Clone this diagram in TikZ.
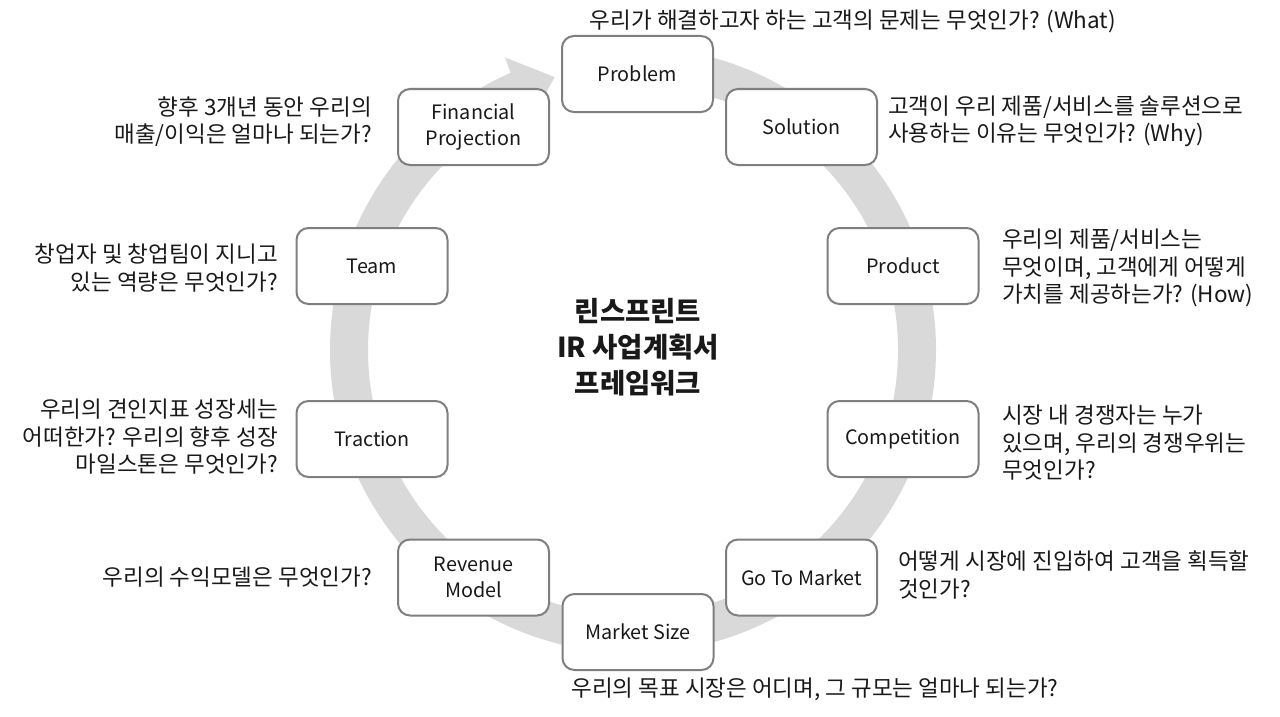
\documentclass[tikz,border=0pt]{standalone}
\usepackage{fontspec}
\setmainfont{Noto Sans CJK KR}
\usetikzlibrary{arrows.meta,bending}
\definecolor{ringgray}{RGB}{217,217,217}
\definecolor{boxgray}{RGB}{127,127,127}
\definecolor{txt}{RGB}{25,25,25}
\begin{document}
\begin{tikzpicture}[x=1pt,y=-1pt,
  font=\fontsize{20}{27}\selectfont,
  stagebox/.style={draw=boxgray, line width=2pt, rounded corners=12pt, fill=white,
    minimum width=151pt, minimum height=76pt, align=center, text=txt, inner sep=2pt,
    font=\fontsize{19.8}{26}\selectfont},
  qtext/.style={text=txt, inner sep=0pt, font=\fontsize{22.5}{27.5}\selectfont},
  qleft/.style={qtext, anchor=west, align=left},
  qright/.style={qtext, anchor=east, align=right}]
\fill[white] (0,0) rectangle (1280,717);
\useasboundingbox (0,0) rectangle (1280,717);
\coordinate (ctr) at (633,350);
\coordinate (ringstart) at ([shift={(-88:284)}]ctr);
\draw[ringgray, line width=38pt, -{Triangle[width=68pt,length=40pt]}]
  (ringstart) arc[start angle=-88, end angle=254, radius=284];

\node[stagebox] (problem) at (637.5,74) {Problem};
\node[stagebox] (solution) at (801.5,127) {Solution};
\node[stagebox] (product) at (903,266) {Product};
\node[stagebox] (competition) at (903,439) {Competition};
\node[stagebox] (gtm) at (801.5,577.5) {Go To Market};
\node[stagebox] (msize) at (638,632) {Market Size};
\node[stagebox] (revenue) at (473.5,577.5) {Revenue\\Model};
\node[stagebox] (traction) at (372,439) {Traction};
\node[stagebox] (team) at (372,266) {Team};
\node[stagebox] (fin) at (473.5,127) {Financial\\Projection};

\node[text=txt, inner sep=0pt, align=center, font=\fontsize{27.5}{36}\selectfont\bfseries] (title) at (638,347)
  {린스프린트\\IR 사업계획서\\프레임워크};

\node[qtext, anchor=center] (qproblem) at (853,21) {우리가 해결하고자 하는 고객의 문제는 무엇인가? (What)};
\node[qleft] (qsolution) at (888,121.5) {고객이 우리 제품/서비스를 솔루션으로\\사용하는 이유는 무엇인가? (Why)};
\node[qleft] (qproduct) at (1002,268) {우리의 제품/서비스는\\무엇이며, 고객에게 어떻게\\가치를 제공하는가? (How)};
\node[qleft] (qcomp) at (1002,443) {시장 내 경쟁자는 누가\\있으며, 우리의 경쟁우위는\\무엇인가?};
\node[qleft] (qgtm) at (898,575) {어떻게 시장에 진입하여 고객을 획득할\\것인가?};
\node[qtext, anchor=center] (qmsize) at (815,689) {우리의 목표 시장은 어디며, 그 규모는 얼마나 되는가?};
\node[qright] (qrevenue) at (372,577) {우리의 수익모델은 무엇인가?};
\node[qright] (qtraction) at (278,437) {우리의 견인지표 성장세는\\어떠한가? 우리의 향후 성장\\마일스톤은 무엇인가?};
\node[qright] (qteam) at (278,268) {창업자 및 창업팀이 지니고\\있는 역량은 무엇인가?};
\node[qright] (qfin) at (372,121.5) {향후 3개년 동안 우리의\\매출/이익은 얼마나 되는가?};
\end{tikzpicture}
\end{document}
